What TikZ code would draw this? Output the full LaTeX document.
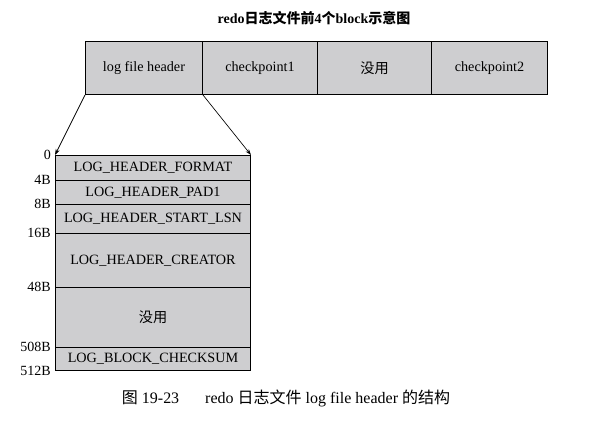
\documentclass[tikz,border=0pt]{standalone}
\usepackage{fontspec}
\setmainfont{Liberation Serif}
\newfontfamily\cjkfont{Noto Sans CJK SC}
\usetikzlibrary{arrows.meta}

\newcommand{\zh}[1]{{\cjkfont #1}}
\definecolor{cellgray}{RGB}{206,206,208}

\begin{document}
\begin{tikzpicture}[x=1pt, y=-1pt, every node/.style={font=\fontsize{14.2}{16}\selectfont}]
\tikzset{
  cell/.style={draw, line width=1pt, fill=cellgray, inner sep=0pt, anchor=north west},
  offset/.style={anchor=east, inner sep=4pt, font=\fontsize{14}{16}\selectfont},
  pointer/.style={-{Stealth[length=6pt, width=4pt]}, line width=0.7pt}
}
\useasboundingbox (0,0) rectangle (590,431);

% Title
\node[font=\fontsize{14}{16}\selectfont\bfseries] (title) at (314,18)
  {redo\zh{日志文件前}4\zh{个}block\zh{示意图}};

% First four blocks of the redo log file
\node[cell, minimum width=117, minimum height=53] (hdr)  at (85,41)  {log file header};
\node[cell, minimum width=115, minimum height=53] (cp1)  at (202,41) {checkpoint1};
\node[cell, minimum width=114, minimum height=53] (unused) at (317,41) {\zh{没用}};
\node[cell, minimum width=116, minimum height=53] (cp2)  at (431,41) {checkpoint2};

% Layout of the log file header block
\node[cell, minimum width=195, minimum height=25] (fmt)  at (55,155) {LOG\_HEADER\_FORMAT};
\node[cell, minimum width=195, minimum height=24] (pad)  at (55,180) {LOG\_HEADER\_PAD1};
\node[cell, minimum width=195, minimum height=29] (lsn)  at (55,204) {LOG\_HEADER\_START\_LSN};
\node[cell, minimum width=195, minimum height=54] (creator) at (55,233) {LOG\_HEADER\_CREATOR};
\node[cell, minimum width=195, minimum height=60] (spare) at (55,287) {\zh{没用}};
\node[cell, minimum width=195, minimum height=23] (chksum) at (55,347) {LOG\_BLOCK\_CHECKSUM};

% Zoom arrows
\draw[pointer] (hdr.south west) -- (fmt.north west);
\draw[pointer] (hdr.south east) -- (fmt.north east);

% Byte offsets
\node[offset] (o0)   at (fmt.north west)     {0};
\node[offset] (o4)   at (pad.north west)     {4B};
\node[offset] (o8)   at (lsn.north west)     {8B};
\node[offset] (o16)  at (creator.north west) {16B};
\node[offset] (o48)  at (spare.north west)   {48B};
\node[offset] (o508) at (chksum.north west)  {508B};
\node[offset] (o512) at (chksum.south west)  {512B};

% Caption
\node[font=\fontsize{16}{18}\selectfont] (caption) at (286,398)
  {\zh{图} 19-23\hspace{26pt}redo \zh{日志文件} log file header \zh{的结构}};

\end{tikzpicture}
\end{document}
